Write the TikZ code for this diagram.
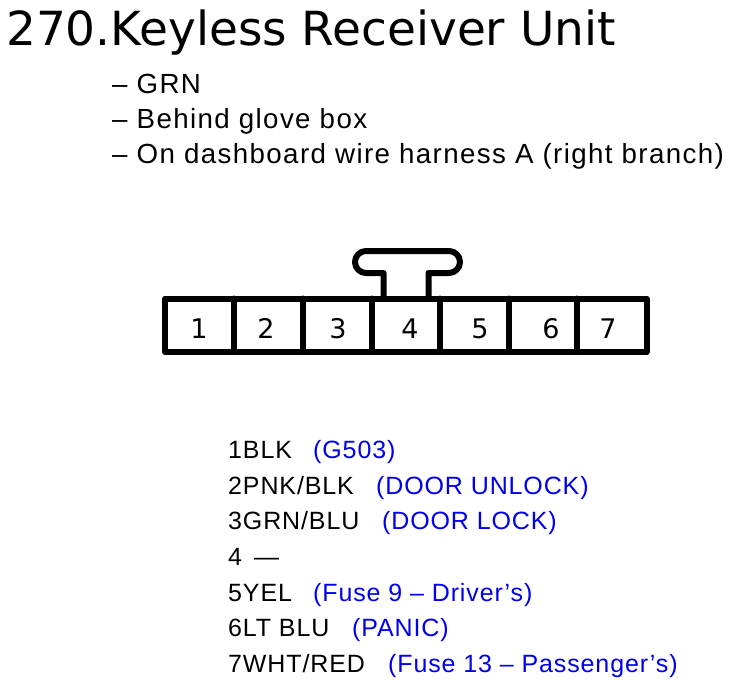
\documentclass[tikz,border=0pt]{standalone}
\usepackage{fontspec}
\setmainfont{Liberation Sans}
\newfontfamily\djv{DejaVu Sans}
\newfontfamily\subf[LetterSpace=5]{Liberation Sans}
\newfontfamily\pinf[LetterSpace=3.5]{Liberation Sans}
\definecolor{lblue}{RGB}{0,0,235}
\begin{document}
\begin{tikzpicture}[x=1pt,y=-1pt,
  txt/.style={anchor=base west,inner sep=0pt,font=\pinf\fontsize{25}{30}\selectfont},
  note/.style={txt,text=lblue},
  sub/.style={anchor=base west,inner sep=0pt,font=\subf\fontsize{27.7}{30}\selectfont},
  pinnum/.style={anchor=base,inner sep=0pt,font=\djv\fontsize{27}{30}\selectfont},
  body/.style={line width=6pt,line join=round,line cap=round}]
\useasboundingbox (0,0) rectangle (729,686);
\fill[white] (0,0) rectangle (729,686);
% title
\node[anchor=base west,inner sep=0pt,font=\djv\fontsize{47}{50}\selectfont] (title) at (6,45) {270.Keyless Receiver Unit};
\node[sub] (s1) at (112,93) {– GRN};
\node[sub] (s2) at (112,128) {– Behind glove box};
\node[sub] (s3) at (112,163) {– On dashboard wire harness A (right branch)};
% connector
\draw[body] (165,298.5) rectangle (646.5,352);
\foreach \x in {233.5,302.5,371.5,440,508.5,576.5}
  \draw[body] (\x,298.5) -- (\x,352);
\draw[body] (383.5,298.5) -- (383.5,273) -- (366,273) arc[start angle=90,end angle=270,radius=11]
  -- (449,251) arc[start angle=-90,end angle=90,radius=11] -- (428.5,273) -- (428.5,298.5);
\node[pinnum] (n1) at (199,338) {1};
\node[pinnum] (n2) at (266,338) {2};
\node[pinnum] (n3) at (338,338) {3};
\node[pinnum] (n4) at (410,338) {4};
\node[pinnum] (n5) at (480,338) {5};
\node[pinnum] (n6) at (551,338) {6};
\node[pinnum] (n7) at (608,338) {7};
% pin list
\node[txt] (p1) at (228,458) {1BLK};
\node[note] (c1) at (313,458) {(G503)};
\node[txt] (p2) at (228,494) {2PNK/BLK};
\node[note] (c2) at (376,494) {(DOOR UNLOCK)};
\node[txt] (p3) at (228,529) {3GRN/BLU};
\node[note] (c3) at (382,529) {(DOOR LOCK)};
\node[txt] (p4) at (228,565) {4\hspace{12pt}—};
\node[txt] (p5) at (228,601) {5YEL};
\node[note] (c5) at (313,601) {(Fuse 9 – Driver’s)};
\node[txt] (p6) at (228,636) {6LT BLU};
\node[note] (c6) at (352,636) {(PANIC)};
\node[txt] (p7) at (228,672) {7WHT/RED};
\node[note] (c7) at (388,672) {(Fuse 13 – Passenger’s)};
\end{tikzpicture}
\end{document}
